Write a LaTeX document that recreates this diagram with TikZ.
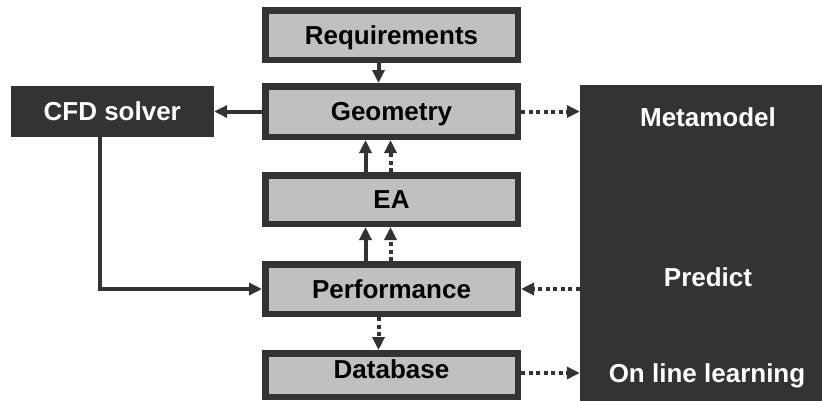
\documentclass[tikz,border=0pt]{standalone}
\usepackage{fontspec}
\setmainfont{Liberation Sans}
\usetikzlibrary{arrows.meta}
\definecolor{dk}{HTML}{333333}
\definecolor{lg}{HTML}{C0C0C0}
\begin{document}
\begin{tikzpicture}[x=1pt,y=-1pt,
  every node/.style={font=\fontsize{26}{30}\selectfont\bfseries, inner sep=0pt, text height=18.6pt, text depth=0pt},
  graybox/.style={draw=dk, line width=6.5pt, fill=lg, minimum width=252.5pt, text=black},
  darkbox/.style={fill=dk, text=white},
  wtext/.style={text=white},
  conn/.style={draw=dk, line width=4pt, -{Triangle[length=13pt,width=12pt]}},
  dotconn/.style={conn, dash pattern=on 4pt off 3.5pt}
]
\useasboundingbox (0,0) rectangle (822,400);
\node[darkbox, minimum width=250pt, minimum height=325pt] (meta) at (705,247.5) {};
\node[graybox, minimum height=49.5pt] (req) at (391.5,35) {Requirements};
\node[graybox, minimum height=50.5pt] (geo) at (391.5,111.5) {Geometry};
\node[graybox, minimum height=48.5pt] (ea) at (391.5,199.5) {EA};
\node[graybox, minimum height=49.5pt] (perf) at (391.5,289) {Performance};
\node[graybox, minimum height=43.5pt] (db) at (391.5,375) {\raisebox{6pt}{Database}};
\node[darkbox, minimum width=203.5pt, minimum height=51pt] (cfd) at (112.25,111.5) {CFD solver};
\node[wtext] (mm) at (708,116.7) {Metamodel};
\node[wtext] (pr) at (708,276.7) {Predict};
\node[wtext] (ol) at (707,373) {On line learning};

\draw[conn] ([xshift=-13pt]req.south) -- ([xshift=-13pt]geo.north);
\draw[conn] (geo.west) -- (cfd.east |- geo.west);
\draw[dotconn] (geo.east) -- (meta.west |- geo.east);
\draw[conn] ([xshift=-26pt]ea.north) -- ([xshift=-26pt]geo.south);
\draw[dotconn] ([xshift=-1pt]ea.north) -- ([xshift=-1pt]geo.south);
\draw[conn] ([xshift=-26pt]perf.north) -- ([xshift=-26pt]ea.south);
\draw[dotconn] ([xshift=-1pt]perf.north) -- ([xshift=-1pt]ea.south);
\draw[conn, rounded corners=0pt] ([xshift=-12pt]cfd.south) |- (perf.west);
\draw[dotconn] (meta.west |- perf.east) -- (perf.east);
\draw[dotconn] ([xshift=-13pt]perf.south) -- ([xshift=-13pt]db.north);
\draw[dotconn] ([yshift=2pt]db.east) -- ([yshift=2pt]meta.west |- db.east);
\end{tikzpicture}
\end{document}
